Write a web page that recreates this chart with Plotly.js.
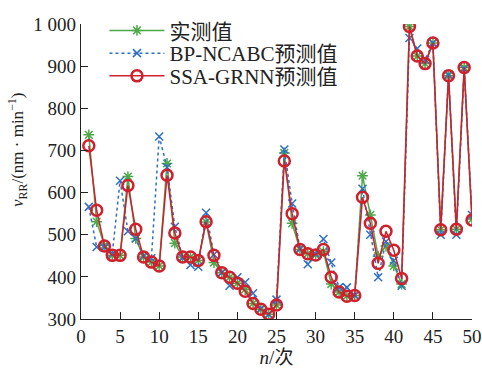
<!DOCTYPE html>
<html>
<head>
<meta charset="utf-8">
<script src="https://cdn.plot.ly/plotly-3.0.1.min.js"></script>
<style>html,body{margin:0;padding:0;background:#fff;}#chart{width:482px;height:368px;}</style>
</head>
<body>
<div id="chart"></div>
<script>
const n = Array.from({length: 50}, (_, i) => i + 1);
const actual = [737,531,475,451,451,638,491,447,435,426,669,480,447,447,439,530,434,410,399,385,370,337,323,311,333,694,527,465,455,452,460,383,364,355,356,640,547,449,473,426,383,994,924,906,955,512,877,513,897,537];
const bpncabc = [566,471,470,455,628,508,491,450,444,733,660,519,445,428,424,552,453,410,379,399,387,361,325,311,346,702,574,467,430,455,490,434,375,375,356,609,500,399,484,438,379,967,942,915,955,500,880,500,893,547];
const ssagrnn = [711,558,473,451,451,617,513,447,435,426,641,504,447,447,439,531,451,410,399,385,366,337,323,311,333,675,550,465,455,452,465,399,364,354,356,589,527,432,508,463,396,994,924,906,955,512,877,513,897,535];
const names = ['实测值', 'BP-NCABC预测值', 'SSA-GRNN预测值'];
const xTicks = [0,5,10,15,20,25,30,35,40,45,50];
const yTicks = [300,400,500,600,700,800,900,1000];
const yTickText = ['300','400','500','600','700','800','900','1 000'];

const FONT = 'Liberation Serif, Times New Roman, Noto Sans CJK SC, serif';
const traces = [
  {x: n, y: actual, name: names[0], legend: 'legend', type: 'scatter', mode: 'lines+markers',
   line: {color: '#4ea84a', width: 1.5},
   marker: {symbol: 'asterisk-open', size: 9, color: '#4ea84a', line: {color: '#4ea84a', width: 1.5}}},
  {x: n, y: bpncabc, name: names[1], legend: 'legend2', type: 'scatter', mode: 'lines+markers',
   line: {color: '#2f6fc2', width: 1.5, dash: 'dot'},
   marker: {symbol: 'x-thin-open', size: 8, color: '#2f6fc2', line: {color: '#2f6fc2', width: 1.5}}},
  {x: n, y: ssagrnn, name: names[2], legend: 'legend3', type: 'scatter', mode: 'lines+markers',
   line: {color: '#d0202e', width: 1.5},
   marker: {symbol: 'circle-open', size: 11, color: '#d0202e', line: {color: '#d0202e', width: 2.5}}}
];
const legBase = {x: 0.06, xanchor: 'left', yanchor: 'middle', bgcolor: 'rgba(0,0,0,0)',
                 font: {family: FONT, size: 21, color: '#222'}, itemwidth: 55};
const layout = {
  width: 482, height: 368,
  margin: {l: 81, r: 10, t: 19, b: 49},
  paper_bgcolor: '#fff', plot_bgcolor: '#fff',
  font: {family: FONT, size: 19, color: '#222'},
  showlegend: true,
  legend: Object.assign({}, legBase, {y: 0.977}),
  legend2: Object.assign({}, legBase, {y: 0.9}),
  legend3: Object.assign({}, legBase, {y: 0.823}),
  xaxis: {range: [0, 50], tickvals: xTicks, ticks: 'inside', ticklen: 7, tickcolor: '#222',
          showline: true, linecolor: '#222', linewidth: 1.2, showgrid: false, zeroline: false,
          mirror: false, tickfont: {family: FONT, size: 19},
          title: {text: '<i>n</i>/次', font: {family: FONT, size: 19}, standoff: 4}},
  yaxis: {range: [300, 1000], tickvals: yTicks, ticktext: yTickText, ticks: 'inside', ticklen: 7,
          tickcolor: '#222', showline: true, linecolor: '#222', linewidth: 1.2, showgrid: false,
          zeroline: false, mirror: false, tickfont: {family: FONT, size: 19}},
  annotations: [{
    text: '<i>v</i><sub>RR</sub>/(nm · min<sup>−1</sup>)', xref: 'paper', yref: 'paper',
    x: -0.161, y: 0.573, xanchor: 'center', yanchor: 'middle', textangle: -90, showarrow: false,
    font: {family: FONT, size: 17, color: '#222'}
  }]
};
Plotly.newPlot('chart', traces, layout, {displayModeBar: false, staticPlot: true});
</script>
</body>
</html>
